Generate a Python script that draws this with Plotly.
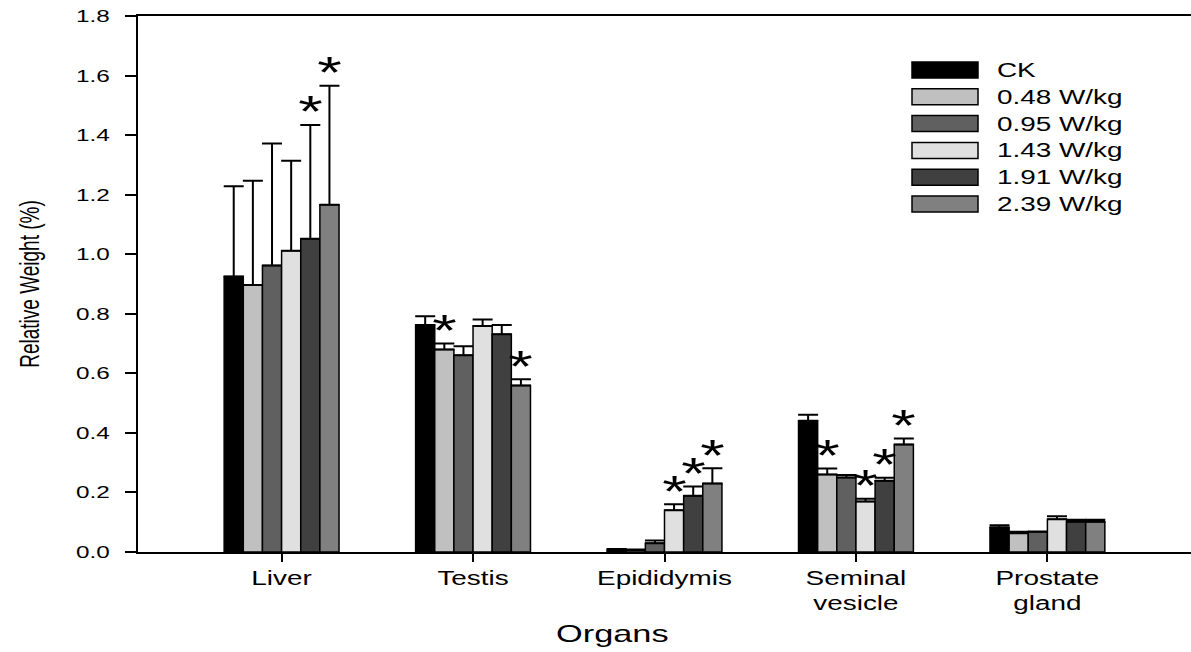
import plotly.graph_objects as go

# Organs on the x axis
organs = ["Liver", "Testis", "Epididymis", "Seminal<br>vesicle", "Prostate<br>gland"]

# Exposure groups
groups = ["CK", "0.48 W/kg", "0.95 W/kg", "1.43 W/kg", "1.91 W/kg", "2.39 W/kg"]

# Mean relative weight (%) per group, in organ order
ck_mean = [0.925, 0.762, 0.008, 0.441, 0.082]
w048_mean = [0.897, 0.680, 0.006, 0.260, 0.063]
w095_mean = [0.962, 0.661, 0.029, 0.250, 0.068]
w143_mean = [1.012, 0.759, 0.140, 0.170, 0.110]
w191_mean = [1.052, 0.731, 0.189, 0.239, 0.102]
w239_mean = [1.166, 0.559, 0.230, 0.361, 0.102]

# Upper error (SD) per group
ck_err = [0.303, 0.030, 0.002, 0.020, 0.008]
w048_err = [0.350, 0.020, 0.002, 0.020, 0.005]
w095_err = [0.410, 0.030, 0.010, 0.009, 0.001]
w143_err = [0.302, 0.022, 0.020, 0.009, 0.010]
w191_err = [0.382, 0.031, 0.031, 0.010, 0.006]
w239_err = [0.400, 0.021, 0.051, 0.020, 0.006]

# Significance markers (1 = significant vs. CK)
ck_sig = [0, 0, 0, 0, 0]
w048_sig = [0, 1, 0, 1, 0]
w095_sig = [0, 0, 0, 0, 0]
w143_sig = [0, 0, 1, 1, 0]
w191_sig = [1, 0, 1, 1, 0]
w239_sig = [1, 1, 1, 1, 0]

means = [ck_mean, w048_mean, w095_mean, w143_mean, w191_mean, w239_mean]
errs = [ck_err, w048_err, w095_err, w143_err, w191_err, w239_err]
sigs = [ck_sig, w048_sig, w095_sig, w143_sig, w191_sig, w239_sig]
colors = ["#000000", "#c0c0c0", "#606060", "#e0e0e0", "#404040", "#808080"]

FONT = "Liberation Sans, Arial, sans-serif"
BAR_W = 0.1

# Plot area in pixels
FIG_W, FIG_H = 1191, 652
M_L, M_R, M_T, M_B = 138, 0, 16, 100
PW = FIG_W - M_L - M_R
PH = FIG_H - M_T - M_B


def paper_x(px):
    return (px - M_L) / PW


def paper_y(py):
    return (M_T + PH - py) / PH


fig = go.Figure()
annotations = []
shapes = []

for k, name in enumerate(groups):
    offset = (k - (len(groups) - 1) / 2) * BAR_W
    xs = [i + offset for i in range(len(organs))]
    fig.add_trace(go.Bar(
        x=xs,
        y=means[k],
        width=BAR_W,
        name=name,
        marker=dict(color=colors[k], line=dict(color="black", width=1.5)),
        error_y=dict(type="data", symmetric=False, array=errs[k],
                     arrayminus=[0] * len(organs), color="black",
                     thickness=2, width=10),
        showlegend=False,
    ))
    for i, s in enumerate(sigs[k]):
        if s:
            annotations.append(dict(
                x=xs[i], y=means[k][i] + errs[k][i], xref="x", yref="y",
                text="*", showarrow=False, yanchor="middle", yshift=13,
                font=dict(family=FONT, size=44, color="black"),
            ))

# Legend drawn as swatches + labels in the upper right
LEG_X0, LEG_X1 = 912, 978
LEG_Y0, LEG_DY, LEG_H = 70, 26.8, 16
LEG_TX = 995
for k, name in enumerate(groups):
    cy = LEG_Y0 + k * LEG_DY
    shapes.append(dict(
        type="rect", xref="paper", yref="paper",
        x0=paper_x(LEG_X0), x1=paper_x(LEG_X1),
        y0=paper_y(cy + LEG_H / 2), y1=paper_y(cy - LEG_H / 2),
        fillcolor=colors[k], line=dict(color="black", width=1.5),
    ))
    annotations.append(dict(
        x=paper_x(LEG_TX), y=paper_y(cy), xref="paper", yref="paper",
        text=name, showarrow=False, xanchor="left", yanchor="middle",
        align="left", font=dict(family=FONT, size=19.5, color="black"),
    ))

# x-axis title
annotations.append(dict(
    x=paper_x(612), y=paper_y(633), xref="paper", yref="paper",
    text="Organs", showarrow=False, xanchor="center", yanchor="middle",
    font=dict(family=FONT, size=24, color="black"),
))

fig.update_layout(
    width=FIG_W, height=FIG_H,
    margin=dict(l=M_L, r=M_R, t=M_T, b=M_B, pad=0),
    paper_bgcolor="white", plot_bgcolor="white",
    barmode="overlay",
    font=dict(family=FONT, color="black"),
    annotations=annotations,
    shapes=shapes,
    xaxis=dict(
        range=[-0.75, 4.75], tickmode="array",
        tickvals=list(range(len(organs))), ticktext=organs,
        ticks="outside", ticklen=8, tickwidth=1.5, tickcolor="black",
        showline=True, linecolor="black", linewidth=1.5, mirror=True,
        showgrid=False, zeroline=False,
        tickfont=dict(family=FONT, size=19.5, color="black"),
    ),
    yaxis=dict(
        range=[0, 1.8], dtick=0.2, tickformat=".1f",
        ticks="outside", ticklen=11, tickwidth=1.5, tickcolor="black",
        showline=True, linecolor="black", linewidth=1.5,
        showgrid=False, zeroline=False, ticklabelstandoff=12,
        tickfont=dict(family=FONT, size=17, color="black"),
        title=dict(text="Relative Weight (%)", standoff=44,
                   font=dict(family=FONT, size=19, color="black")),
    ),
)

# Widen all text horizontally to the wide typeface proportions of the chart
stretch_js = """
(function(){
  var gd = document.getElementById('{plot_id}');
  var S = 1.43;
  gd.querySelectorAll('svg text').forEach(function(t){
    var bb;
    try { bb = t.getBBox(); } catch (e) { return; }
    if (!bb || bb.width === 0) return;
    var tr = t.getAttribute('transform') || '';
    var anchor = t.getAttribute('text-anchor') || 'start';
    var ax = anchor === 'end' ? bb.x + bb.width : (anchor === 'middle' ? bb.x + bb.width / 2 : bb.x);
    var cy = bb.y + bb.height / 2;
    var sc;
    if (/rotate\\(/.test(tr)) { sc = 'scale(1,' + S + ')'; ax = bb.x + bb.width / 2; }
    else { sc = 'scale(' + S + ',1)'; }
    t.setAttribute('transform', tr + ' translate(' + ax + ',' + cy + ') ' + sc +
                   ' translate(' + (-ax) + ',' + (-cy) + ')');
  });
})();
"""

fig.write_html("out.html", config={"displayModeBar": False}, post_script=stretch_js)
